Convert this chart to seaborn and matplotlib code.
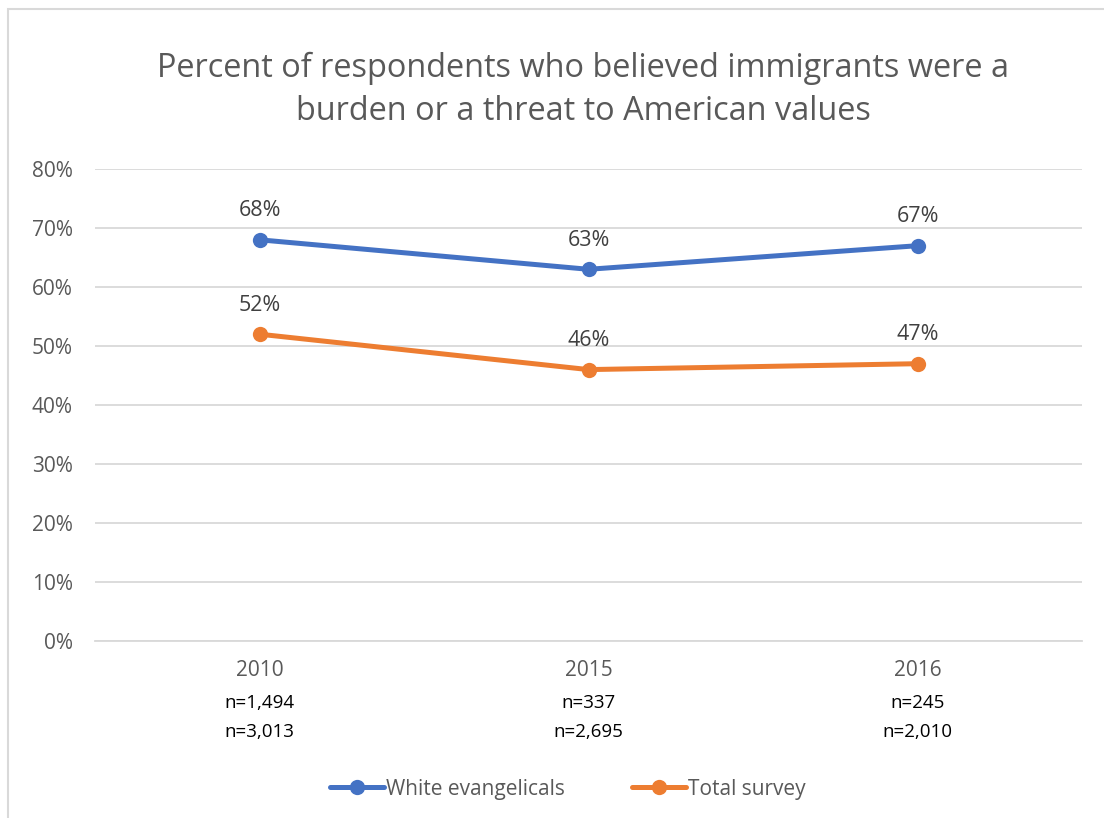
import matplotlib
matplotlib.use("Agg")
import matplotlib.pyplot as plt
import seaborn as sns
import pandas as pd
from matplotlib.patches import Rectangle
from matplotlib.ticker import FuncFormatter, MultipleLocator

years = ["2010", "2015", "2016"]
white_evangelicals = [68, 63, 67]
total_survey = [52, 46, 47]
n_white_evangelicals = ["n=1,494", "n=337", "n=245"]
n_total_survey = ["n=3,013", "n=2,695", "n=2,010"]
series_names = ["White evangelicals", "Total survey"]
title = "Percent of respondents who believed immigrants were a\nburden or a threat to American values"

colors = {"White evangelicals": "#4472C4", "Total survey": "#ED7D31"}

df = pd.DataFrame({
    "year": years * 2,
    "pos": list(range(len(years))) * 2,
    "value": white_evangelicals + total_survey,
    "series": [series_names[0]] * len(years) + [series_names[1]] * len(years),
})

sns.set_theme(style="white")
plt.rcParams["font.family"] = ["Open Sans", "DejaVu Sans"]

W, H = 1104, 818
fig = plt.figure(figsize=(W / 100, H / 100), dpi=100)
fig.patch.set_facecolor("white")

# outer chart border (open on right and bottom)
fig.add_artist(Rectangle((8 / W, -0.05), 1.2, 1 - 9 / H + 0.05,
                         transform=fig.transFigure, fill=False,
                         edgecolor="#D9D9D9", linewidth=1.5))

ax = fig.add_axes([95 / W, 1 - 641 / H, (1082 - 95) / W, (641 - 169) / H])

sns.lineplot(data=df, x="pos", y="value", hue="series", palette=colors,
             marker="o", markersize=11, markeredgewidth=0, linewidth=3.6,
             ax=ax, legend=False, sort=False)

ax.set_xlim(-0.5, 2.5)
ax.set_ylim(0, 80)
ax.yaxis.set_major_locator(MultipleLocator(10))
ax.yaxis.set_major_formatter(FuncFormatter(lambda v, p: f"{v:.0f}%"))
ax.grid(axis="y", color="#D9D9D9", linewidth=1.3)
ax.set_axisbelow(True)
for s in ["top", "right", "left"]:
    ax.spines[s].set_visible(False)
ax.spines["bottom"].set_color("#D9D9D9")
ax.spines["bottom"].set_linewidth(1.3)
ax.set_xlabel("")
ax.set_ylabel("")
ax.set_xticks(range(len(years)))
ax.set_xticklabels(years)
ax.tick_params(axis="both", length=0, labelsize=15, labelcolor="#595959")
ax.tick_params(axis="y", pad=16)
ax.tick_params(axis="x", pad=14)

# data labels above points
for vals in (white_evangelicals, total_survey):
    for i, v in enumerate(vals):
        ax.annotate(f"{v}%", (i, v), xytext=(0, 21), textcoords="offset points",
                    ha="center", va="center", fontsize=15.5, color="#404040")

# sample sizes under the year labels
for i in range(len(years)):
    ax.annotate(n_white_evangelicals[i], (i, 0), xycoords=("data", "axes fraction"),
                xytext=(0, -45), textcoords="offset points", ha="center",
                va="center", fontsize=13.5, color="black")
    ax.annotate(n_total_survey[i], (i, 0), xycoords=("data", "axes fraction"),
                xytext=(0, -65.5), textcoords="offset points", ha="center",
                va="center", fontsize=13.5, color="black")

fig.text(583 / W, 1 - 90 / H, title, ha="center", va="center", fontsize=23.4,
         color="#595959", linespacing=1.38)

handles = [plt.Line2D([], [], color=colors[n], marker="o", markersize=11,
                      markeredgewidth=0, linewidth=3.6) for n in series_names]
fig.legend(handles, series_names, loc="center", bbox_to_anchor=(568 / W, 1 - 789 / H),
           ncol=2, frameon=False, fontsize=15, labelcolor="#595959",
           handlelength=2.6, handletextpad=0.1, columnspacing=3.2)

fig.savefig("out.png", dpi=100, facecolor="white")
